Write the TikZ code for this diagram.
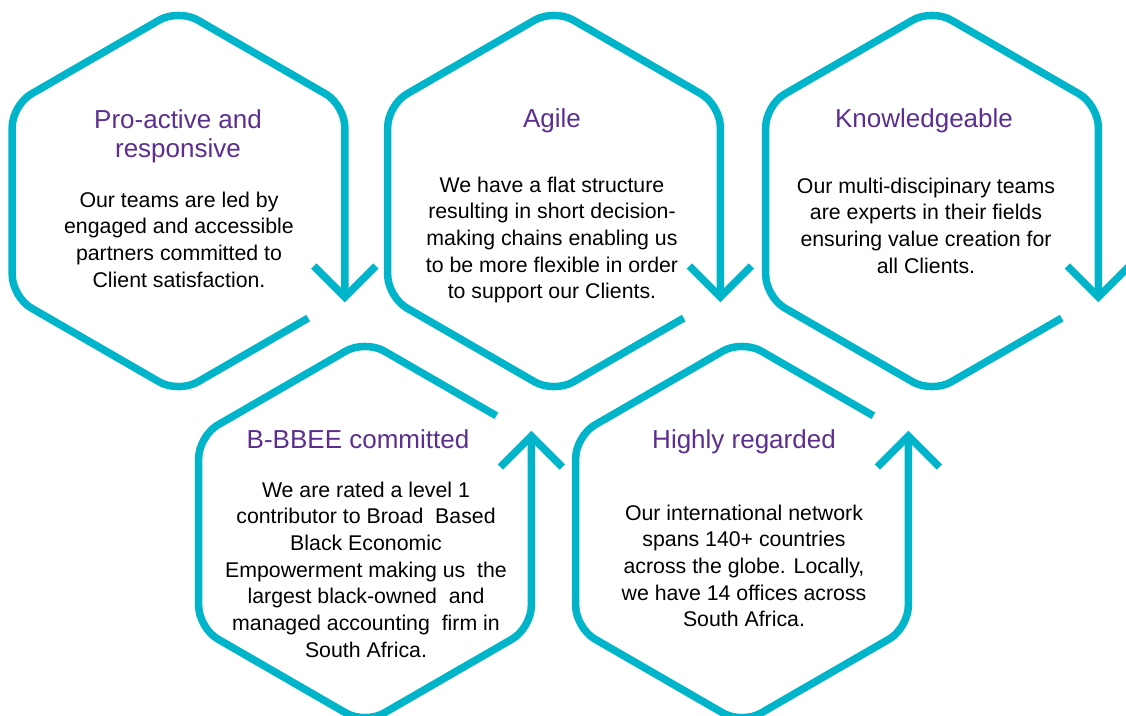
\documentclass[tikz,border=0pt]{standalone}
\usepackage{fontspec}
\setmainfont{Liberation Sans}
\definecolor{hexcyan}{HTML}{00B5C9}
\definecolor{titlepurple}{HTML}{5B2E90}
\newcommand\titlefont{\fontsize{26}{29}\selectfont}
\newcommand\bodyfont{\fontsize{21.3}{26.7}\selectfont}
\newcommand\tstrut{\rule{0pt}{24pt}}
\newcommand\bstrut{\rule{0pt}{20pt}}
\begin{document}
\begin{tikzpicture}[x=1pt,y=-1pt,
  hexline/.style={draw=hexcyan, line width=7.5pt, rounded corners=22pt},
  arrowline/.style={draw=hexcyan, line width=7.5pt, line join=miter, miter limit=10},
  titletext/.style={font=\titlefont, text=titlepurple, align=center, inner sep=0pt, outer sep=0pt, anchor=north},
  bodytext/.style={font=\bodyfont, text=black, align=center, inner sep=0pt, outer sep=0pt, anchor=north}]
\useasboundingbox (0,0) rectangle (1126,715);
% top row hexagons
\foreach \cx/\cy in {178.5/201, 554/201, 932/201}{
  \begin{scope}[shift={(\cx,\cy)}]
    \draw[hexline] (129.7,117.1) -- (0,192) -- (-166.3,96) -- (-166.3,-96) -- (0,-192) -- (166.3,-96) -- (166.3,96);
    \draw[arrowline] (135.3,65) -- (166.3,96) -- (197.3,65);
  \end{scope}
}
% bottom row hexagons
\foreach \cx/\cy in {365/532, 742/532}{
  \begin{scope}[shift={(\cx,\cy)}]
    \draw[hexline] (131.4,-116.2) -- (0,-192) -- (-166.3,-96) -- (-166.3,96) -- (0,192) -- (166.3,96) -- (166.3,-96);
    \draw[arrowline] (135.3,-65) -- (166.3,-96) -- (197.3,-65);
  \end{scope}
}
% texts
\node[titletext] (t1) at (178,104) {\tstrut Pro-active and\\responsive};
\node[bodytext] (b1) at (179,187) {\bstrut Our teams are led by\\engaged and accessible\\partners committed to\\Client satisfaction.};
\node[titletext] (t2) at (552,103) {\tstrut Agile};
\node[bodytext] (b2) at (552,172) {\bstrut We have a flat structure\\resulting in short decision-\\making chains enabling us\\to be more flexible in order\\to support our Clients.};
\node[titletext] (t3) at (924,103) {\tstrut Knowledgeable};
\node[bodytext] (b3) at (926,173) {\bstrut Our multi-discipinary teams\\are experts in their fields\\ensuring value creation for\\all Clients.};
\node[titletext] (t4) at (358,424) {\tstrut B-BBEE committed};
\node[bodytext] (b4) at (366,477) {\bstrut We are rated a level 1\\contributor to Broad~ Based\\Black Economic\\Empowerment making us~ the\\largest black-owned~ and\\managed accounting~ firm in\\South Africa.};
\node[titletext] (t5) at (744,424) {\tstrut Highly regarded};
\node[bodytext] (b5) at (744,500) {\bstrut Our international network\\spans 140+ countries\\across the globe. Locally,\\we have 14 offices across\\South Africa.};
\end{tikzpicture}
\end{document}
